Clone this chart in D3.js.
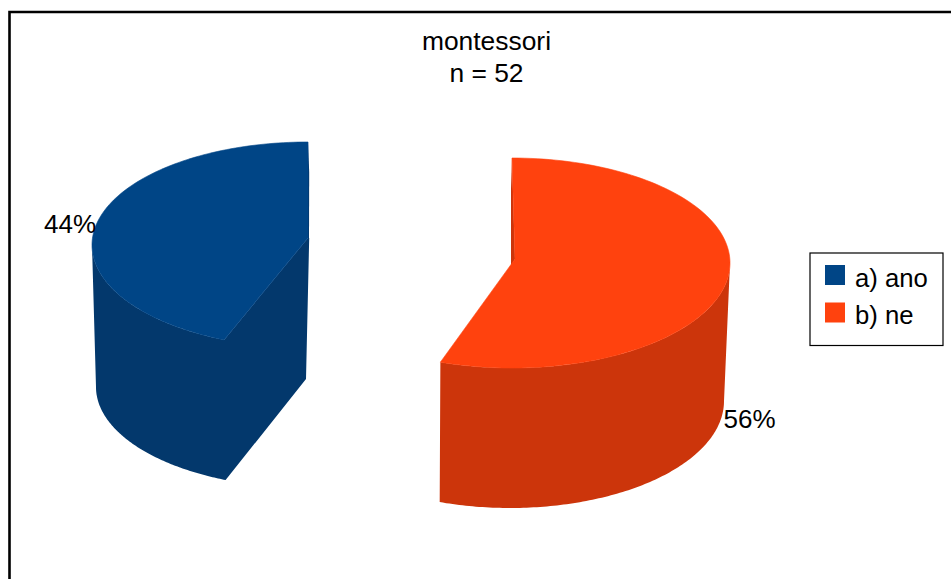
<!DOCTYPE html>
<html>
<head>
<meta charset="utf-8">
<script src="https://cdn.jsdelivr.net/npm/d3@7"></script>
<style>
  html, body { margin: 0; padding: 0; background: #fff; }
  svg { display: block; }
  text { font-family: "Liberation Sans", Arial, sans-serif; fill: #000; }
</style>
</head>
<body>
<svg id="chart" width="951" height="579"></svg>
<script>
// Survey result
const titleLines = ["montessori", "n = 52"];
const categories = ["a) ano", "b) ne"];
const percents = [44, 56];
const topColors = ["#004586", "#ff420e"];
const wallColors = ["#03386c", "#cc350b"];

// Each exploded slice is a pair of ellipses: the top rim and the smaller bottom rim.
// Perspective squeezes the drawn sweep slightly relative to the true angle (squeeze).
// The blue slice shows its cut wall, so that wall joins its outer wall in one outline.
const sliceGeometry = [
  {
    top: { cx: 308, cy: 245, rx: 216, ry: 103 }, topApex: [308, 238],
    bottom: { cx: 308, cy: 387, rx: 212, ry: 101 }, bottomApex: [306, 379],
    sideAngle: -Math.PI / 2, squeeze: 0.992, backWallX: 1.2, showsCut: true, label: [44, 233]
  },
  {
    top: { cx: 512, cy: 263, rx: 218, ry: 105 }, topApex: [515, 259],
    bottom: { cx: 510, cy: 401, rx: 214, ry: 107 }, bottomApex: [511, 266],
    sideAngle: Math.PI / 2, squeeze: 0.988, backWallX: -1, showsCut: false, label: [723.5, 428]
  }
];

const svg = d3.select("#chart");
const line = d3.line();
const pie = d3.pie().sort(null)
  .startAngle(-2 * Math.PI * percents[0] / 100)
  .endAngle(2 * Math.PI * percents[1] / 100);
const arcs = pie(percents);

const rimPoint = (e, a) => [e.cx + e.rx * Math.sin(a), e.cy - e.ry * Math.cos(a)];
const rimPoints = (e, a0, a1, steps = 120) =>
  d3.range(steps + 1).map(i => rimPoint(e, a0 + (a1 - a0) * i / steps));

// Chart frame: only the top and left edges fall inside the page
svg.append("path").attr("d", "M9.5,579V12H951").attr("fill", "none").attr("stroke", "#000").attr("stroke-width", 2.6);

arcs.forEach((arc, i) => {
  const g = sliceGeometry[i];
  const layer = svg.append("g").attr("class", "slice");
  const sweep = d3.scaleLinear().domain([-Math.PI, Math.PI]).range([-Math.PI * g.squeeze, Math.PI * g.squeeze]);
  const a0 = sweep(arc.startAngle);
  const a1 = sweep(arc.endAngle);
  // the end of the sweep that is not at twelve o'clock
  const cutAngle = Math.abs(a0) > Math.abs(a1) ? a0 : a1;
  const backTop = rimPoint(g.top, 0);

  // radial wall at twelve o'clock, visible as a thin sliver
  layer.append("path")
    .attr("d", line([backTop, [backTop[0] + g.backWallX, backTop[1] + 30], [g.topApex[0] + (i ? -4 : 1), g.topApex[1] + (i ? 7 : 0)], g.topApex]) + "Z")
    .attr("fill", wallColors[i]);

  // outer curved wall, continued along the cut where that wall faces the viewer
  const cutWall = g.showsCut ? [g.topApex, [g.topApex[0] + g.backWallX, g.topApex[1]], g.bottomApex] : [];
  const wall = rimPoints(g.top, g.sideAngle, cutAngle)
    .concat(cutWall, rimPoints(g.bottom, cutAngle, g.sideAngle));
  layer.append("path").attr("d", line(wall) + "Z").attr("fill", wallColors[i]);

  // top face; the hairline stroke closes the seam against the walls
  const face = [g.topApex].concat(rimPoints(g.top, a0, a1), [g.topApex]);
  layer.append("path").attr("d", line(face) + "Z")
    .attr("fill", topColors[i]).attr("stroke", topColors[i]).attr("stroke-width", 0.6);
});

// Percentage labels
svg.append("g").selectAll("text").data(percents).join("text")
  .attr("x", (d, i) => sliceGeometry[i].label[0])
  .attr("y", (d, i) => sliceGeometry[i].label[1])
  .attr("font-size", 26)
  .text(d => d + "%");

// Title
svg.append("g").selectAll("text").data(titleLines).join("text")
  .attr("x", 486.5)
  .attr("y", (d, i) => 50 + i * 32)
  .attr("text-anchor", "middle")
  .attr("font-size", 26.4)
  .text(d => d);

// Legend
const legend = svg.append("g");
legend.append("rect")
  .attr("x", 810).attr("y", 253).attr("width", 133).attr("height", 92.5)
  .attr("fill", "#fff").attr("stroke", "#000").attr("stroke-width", 1.2);
const rowY = d3.scalePoint().domain(categories).range([265, 302.5]);
const rows = legend.selectAll("g").data(categories).join("g")
  .attr("transform", d => `translate(825,${rowY(d)})`);
rows.append("rect").attr("width", 20).attr("height", 20).attr("fill", (d, i) => topColors[i]);
rows.append("text").attr("x", 30).attr("y", 21.5).attr("font-size", 25.7).text(d => d);
</script>
</body>
</html>
